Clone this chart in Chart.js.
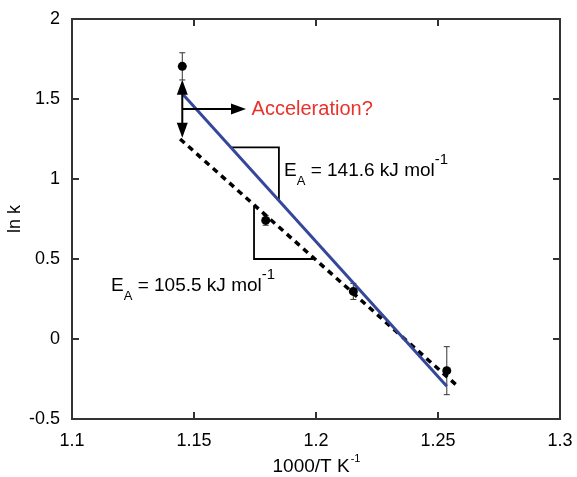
<!DOCTYPE html>
<html>
<head>
<meta charset="utf-8">
<script src="https://cdn.jsdelivr.net/npm/chart.js@4/dist/chart.umd.min.js"></script>
<style>
html,body{margin:0;padding:0;background:#fff;}
#wrap{position:relative;width:577px;height:477px;}
</style>
</head>
<body>
<div id="wrap"><canvas id="c" width="577" height="477"></canvas></div>
<script>
// ---- data ----
const invT = [1.1452, 1.1794, 1.2153, 1.2536];          // 1000/T (K^-1)
const lnK = [1.704, 0.741, 0.2975, -0.198];             // ln k
const lnKErr = [0.085, 0.03, 0.05, 0.15];               // error bars
const fitBlueX = [1.1456, 1.2536];                      // E_A = 141.6 fit
const fitBlueY = [1.527, -0.296];
const fitDashX = [1.1443, 1.2574];                      // E_A = 105.5 fit
const fitDashY = [1.25, -0.286];
const tri1X = [1.1655, 1.1848, 1.1848];                 // slope triangle (blue)
const tri1Y = [1.1975, 1.1975, 0.856];
const tri2X = [1.1746, 1.1746, 1.1989];                 // slope triangle (dashed)
const tri2Y = [0.835, 0.5, 0.5];
const xTicks = [1.1, 1.15, 1.2, 1.25, 1.3];
const xTickLabels = ['1.1', '1.15', '1.2', '1.25', '1.3'];
const yTicks = [-0.5, 0, 0.5, 1, 1.5, 2];
const yTickLabels = ['-0.5', '0', '0.5', '1', '1.5', '2'];
// annotation anchors (data units)
const vArrowX = 1.1452, vArrowY = [1.258, 1.62];
const hArrowY = 1.4375, hArrowX = [1.1452, 1.1713];
const accelText = {x: 1.1736, y: 1.437, text: 'Acceleration?'};
const ea1 = {x: 1.1869, y: 1.016, value: '141.6'};
const ea2 = {x: 1.116, y: 0.2975, value: '105.5'};

const toPts = (xs, ys) => xs.map((x, i) => ({x: x, y: ys[i]}));
const FONT = '"Liberation Sans", Arial, sans-serif';

const decor = {
  id: 'decor',
  beforeDatasetsDraw(chart) {
    const {ctx, chartArea: a, scales: {x, y}} = chart;
    ctx.save();
    // error bars
    ctx.strokeStyle = '#333'; ctx.lineWidth = 1;
    invT.forEach((xv, i) => {
      const px = x.getPixelForValue(xv);
      const t = y.getPixelForValue(lnK[i] + lnKErr[i]);
      const b = y.getPixelForValue(lnK[i] - lnKErr[i]);
      ctx.beginPath();
      ctx.moveTo(px, t); ctx.lineTo(px, b);
      ctx.moveTo(px - 3, t); ctx.lineTo(px + 3, t);
      ctx.moveTo(px - 3, b); ctx.lineTo(px + 3, b);
      ctx.stroke();
    });
    ctx.restore();
  },
  afterDatasetsDraw(chart) {
    const {ctx, chartArea: a, scales: {x, y}} = chart;
    ctx.save();
    // frame
    ctx.strokeStyle = '#333'; ctx.lineWidth = 2;
    ctx.strokeRect(a.left, a.top, a.right - a.left, a.bottom - a.top);
    // inward ticks on all four sides
    ctx.beginPath();
    const L = 7;
    xTicks.forEach(v => {
      const px = x.getPixelForValue(v);
      ctx.moveTo(px, a.bottom); ctx.lineTo(px, a.bottom - L);
      ctx.moveTo(px, a.top); ctx.lineTo(px, a.top + L);
    });
    yTicks.forEach(v => {
      const py = y.getPixelForValue(v);
      ctx.moveTo(a.left, py); ctx.lineTo(a.left + L, py);
      ctx.moveTo(a.right, py); ctx.lineTo(a.right - L, py);
    });
    ctx.stroke();

    // arrows
    ctx.strokeStyle = '#000'; ctx.fillStyle = '#000'; ctx.lineWidth = 2;
    const head = (tx, ty, dx, dy) => {
      const len = 15, w = 5.5;
      const bx = tx - dx * len, by = ty - dy * len;
      ctx.beginPath();
      ctx.moveTo(tx, ty);
      ctx.lineTo(bx - dy * w, by + dx * w);
      ctx.lineTo(bx + dy * w, by - dx * w);
      ctx.closePath(); ctx.fill();
    };
    const vx = x.getPixelForValue(vArrowX);
    const vb = y.getPixelForValue(vArrowY[0]), vt = y.getPixelForValue(vArrowY[1]);
    ctx.beginPath(); ctx.moveTo(vx, vb - 8); ctx.lineTo(vx, vt + 8); ctx.stroke();
    head(vx, vt, 0, -1); head(vx, vb, 0, 1);
    const hy = y.getPixelForValue(hArrowY);
    const hl = x.getPixelForValue(hArrowX[0]), hr = x.getPixelForValue(hArrowX[1]);
    ctx.beginPath(); ctx.moveTo(hl, hy); ctx.lineTo(hr - 8, hy); ctx.stroke();
    head(hr, hy, 1, 0);

    // Acceleration? text
    ctx.font = '20px ' + FONT;
    ctx.fillStyle = '#e8322b';
    ctx.textBaseline = 'middle'; ctx.textAlign = 'left';
    ctx.fillText(accelText.text, x.getPixelForValue(accelText.x), y.getPixelForValue(accelText.y));

    // E_A labels
    const eaLabel = (o) => {
      let px = x.getPixelForValue(o.x);
      const py = y.getPixelForValue(o.y);
      ctx.fillStyle = '#000';
      ctx.textBaseline = 'alphabetic';
      ctx.font = '19px ' + FONT;
      ctx.fillText('E', px, py);
      px += ctx.measureText('E').width;
      ctx.font = '13px ' + FONT;
      ctx.fillText('A', px, py + 9);
      px += ctx.measureText('A').width;
      ctx.font = '19px ' + FONT;
      const main = ' = ' + o.value + ' kJ mol';
      ctx.fillText(main, px, py);
      px += ctx.measureText(main).width;
      ctx.font = '15px ' + FONT;
      ctx.fillText('-1', px, py - 12);
    };
    eaLabel(ea1);
    eaLabel(ea2);

    // axis titles
    ctx.fillStyle = '#000';
    ctx.font = '19px ' + FONT;
    ctx.textBaseline = 'middle';
    const t1 = '1000/T K', t2 = '-1';
    const w1 = ctx.measureText(t1).width;
    ctx.font = '11px ' + FONT;
    const w2 = ctx.measureText(t2).width;
    const cx = (a.left + a.right) / 2;
    let sx = cx - (w1 + w2) / 2;
    ctx.font = '19px ' + FONT;
    ctx.fillText(t1, sx, 467);
    ctx.font = '11px ' + FONT;
    ctx.fillText(t2, sx + w1 + 1, 459);

    ctx.save();
    ctx.translate(15, (a.top + a.bottom) / 2);
    ctx.rotate(-Math.PI / 2);
    ctx.font = '18px ' + FONT;
    ctx.textAlign = 'center';
    ctx.fillText('ln k', 0, 0);
    ctx.restore();

    ctx.restore();
  }
};

new Chart(document.getElementById('c'), {
  type: 'scatter',
  data: {
    datasets: [
      {data: toPts(tri1X, tri1Y), showLine: true, borderColor: '#000', borderWidth: 1.8, pointRadius: 0, fill: false, order: 4},
      {data: toPts(tri2X, tri2Y), showLine: true, borderColor: '#000', borderWidth: 1.8, pointRadius: 0, fill: false, order: 4},
      {data: toPts(fitDashX, fitDashY), showLine: true, borderColor: '#000', borderWidth: 3.5, borderDash: [6, 5], pointRadius: 0, fill: false, order: 3},
      {data: toPts(fitBlueX, fitBlueY), showLine: true, borderColor: '#35479b', borderWidth: 3, pointRadius: 0, fill: false, order: 2},
      {data: toPts(invT, lnK), showLine: false, backgroundColor: '#000', borderColor: '#000', pointRadius: 4.5, pointBorderWidth: 0, order: 1}
    ]
  },
  options: {
    responsive: false,
    animation: false,
    layout: {padding: {top: 19, right: 17, bottom: 0, left: 0}},
    plugins: {legend: {display: false}, tooltip: {enabled: false}},
    scales: {
      x: {
        type: 'linear', min: 1.1, max: 1.3,
        afterBuildTicks: s => { s.ticks = xTicks.map(v => ({value: v})); },
        afterFit: s => { s.height = 58; s.paddingLeft = 0; s.paddingRight = 0; },
        ticks: {
          callback: (v) => { const i = xTicks.findIndex(t => Math.abs(t - v) < 1e-9); return i >= 0 ? xTickLabels[i] : ''; },
          font: {family: FONT, size: 18}, color: '#000', padding: 11, maxRotation: 0, autoSkip: false
        },
        grid: {display: false, drawTicks: false},
        border: {display: false}
      },
      y: {
        type: 'linear', min: -0.5, max: 2,
        afterBuildTicks: s => { s.ticks = yTicks.map(v => ({value: v})); },
        afterFit: s => { s.width = 72; s.paddingTop = 0; s.paddingBottom = 0; },
        ticks: {
          callback: (v) => { const i = yTicks.findIndex(t => Math.abs(t - v) < 1e-9); return i >= 0 ? yTickLabels[i] : ''; },
          font: {family: FONT, size: 18}, color: '#000', padding: 12, autoSkip: false
        },
        grid: {display: false, drawTicks: false},
        border: {display: false}
      }
    }
  },
  plugins: [decor]
});
</script>
</body>
</html>
